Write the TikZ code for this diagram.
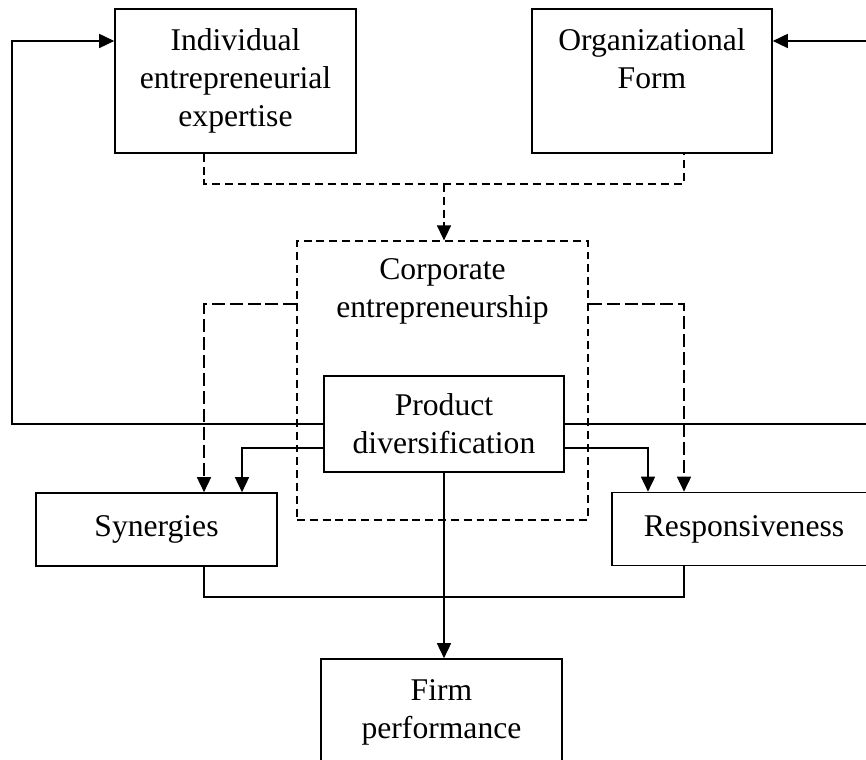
\documentclass[tikz,border=0pt]{standalone}
\usepackage{fontspec}
\setmainfont{Liberation Serif}
\usetikzlibrary{arrows.meta}

\begin{document}
\begin{tikzpicture}[x=0.02cm,y=0.02cm,
  font=\fontsize{18}{21.6}\selectfont,
  box/.style={draw,line width=0.95pt,align=center,inner sep=0pt},
  dashbox/.style={draw,line width=0.75pt,dash pattern=on 4.5pt off 2.8pt},
  link/.style={line width=0.75pt},
  dlink/.style={line width=0.75pt,dash pattern=on 4.5pt off 2.8pt},
  ldlink/.style={line width=0.75pt,dash pattern=on 7.4pt off 2.8pt},
  >={Triangle[length=8.5pt,width=8pt]}]
\def\u{0.02cm}
\useasboundingbox (0,0) rectangle (866,760);
% boxes
\node[box,minimum width=241*\u,minimum height=144*\u] (ind) at (235.5,679)
  {Individual\\entrepreneurial\\expertise};
\node[box,minimum width=240*\u,minimum height=144*\u] (org) at (652,679)
  {Organizational\\Form\\\vphantom{p}};
\node[dashbox,minimum width=291*\u,minimum height=279*\u] (corp) at (442.5,379.5) {};
\node[align=center,inner sep=0pt,anchor=north] (corptext) at ([yshift=-0.36cm]corp.north)
  {Corporate\\entrepreneurship};
\node[box,minimum width=240*\u,minimum height=96*\u] (prod) at (444,336)
  {Product\\diversification};
\node[box,minimum width=241*\u,minimum height=73*\u] (syn) at (156.5,230.5) {Synergies};
\node[box,minimum width=264*\u,minimum height=73*\u] (resp) at (744,231) {Responsiveness};
\node[box,minimum width=241*\u,minimum height=144*\u] (firm) at (441.5,29)
  {Firm\\performance\\\vphantom{p}};
% helper points
\coordinate (colL) at (204,0);
\coordinate (colR) at (684,0);
\coordinate (top) at (444,576);
\coordinate (side) at (0,456);
\coordinate (lo) at (0,312);
\coordinate (synin) at (242,0);
\coordinate (respin) at (648,0);
\coordinate (fbL) at (12,719);
\coordinate (fbR) at (885,719);
\coordinate (join) at (0,163);
% dashed links
\draw[dlink] (colL |- ind.south) |- (top) -| (colR |- org.south);
\draw[dlink,->] (top) -- (top |- corp.north);
\draw[ldlink,->] (corp.west |- side) -| (colL |- syn.north);
\draw[ldlink,->] (corp.east |- side) -| (colR |- resp.north);
% solid links
\draw[link,->] (prod.west |- lo) -| (synin |- syn.north);
\draw[link,->] (prod.east |- lo) -| (respin |- resp.north);
\draw[link,->] (prod.west) -| (fbL) -- (fbL -| ind.west);
\draw[link,->] (prod.east) -| (fbR) -- (fbR -| org.east);
\draw[link] (colL |- syn.south) |- (join -| colR) -- (colR |- resp.south);
\draw[link,->] (prod.south) -- (prod.south |- firm.north);
\end{tikzpicture}
\end{document}
